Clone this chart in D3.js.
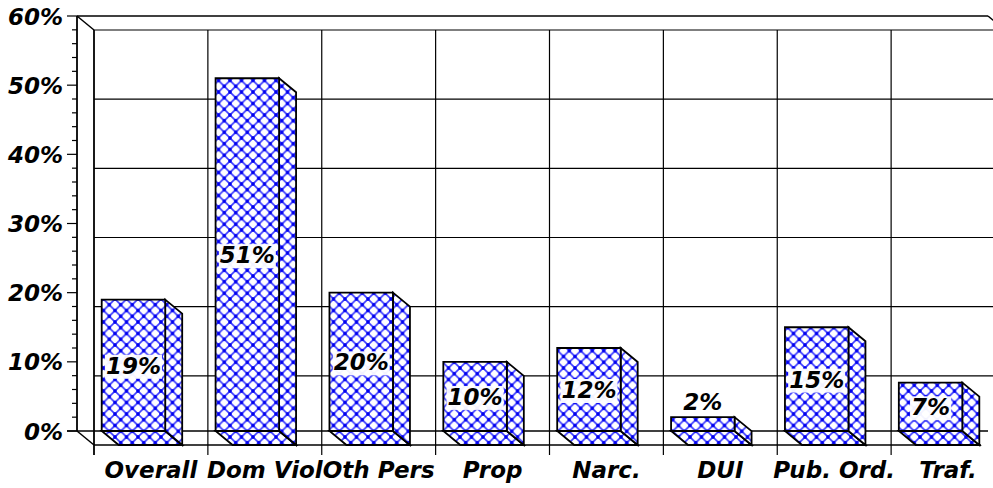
<!DOCTYPE html>
<html>
<head>
<meta charset="utf-8">
<script src="https://cdn.jsdelivr.net/npm/d3@7"></script>
<style>
  html, body { margin: 0; padding: 0; background: #fff; }
  svg { display: block; }
  text { font-family: "DejaVu Sans", "Liberation Sans", sans-serif; font-weight: bold; font-style: oblique; fill: #000; }
</style>
</head>
<body>
<svg id="chart" width="993" height="488"></svg>
<script>
const categories = ["Overall", "Dom Viol", "Oth Pers", "Prop", "Narc.", "DUI", "Pub. Ord.", "Traf."];
const values = [19, 51, 20, 10, 12, 2, 15, 7];
const yTicks = [0, 10, 20, 30, 40, 50, 60];
const yTickLabels = ["0%", "10%", "20%", "30%", "40%", "50%", "60%"];
const minorTicks = d3.range(0, 61, 2);

(function () {
const W = 993, H = 488;
const svg = d3.select("#chart");

const DX = 17, DY = 14;          // depth offset of the back wall
const mLeft = 77, mRight = 988, mTop = 16, mBottom = 431;

const y = d3.scaleLinear().domain([0, 60]).range([mBottom, mTop]);
const x = d3.scaleBand().domain(categories).range([mLeft, mRight]).paddingInner(0).paddingOuter(0);
const barOffset = 24.7, barWidth = 63.5;

// pattern
const defs = svg.append("defs");
const P = 11.5;
const pat = defs.append("pattern").attr("id", "hatch").attr("patternUnits", "userSpaceOnUse")
  .attr("width", P).attr("height", P).attr("x", 0).attr("y", 0);
pat.append("rect").attr("width", P).attr("height", P).attr("fill", "#fff");
pat.append("path").attr("d", `M0,0 L${P},${P} M${P},0 L0,${P} M${-P/2},${P/2} L${P/2},${P*1.5} M${P/2},${-P/2} L${P*1.5},${P/2}`)
  .attr("stroke", "#3535ff").attr("stroke-width", 1.6).attr("fill", "none");
[[0,0],[P,0],[0,P],[P,P],[P/2,P/2]].forEach(([cx,cy]) => {
  pat.append("circle").attr("cx", cx).attr("cy", cy).attr("r", 1.8).attr("fill", "#0000ee");
});

const g = svg.append("g");

// back wall gridlines (horizontal)
g.selectAll("line.hgrid").data(yTicks.filter(d => d > 0)).join("line")
  .attr("x1", mLeft + DX).attr("x2", W + 20)
  .attr("y1", d => y(d) + DY).attr("y2", d => y(d) + DY)
  .attr("stroke", "#000").attr("stroke-width", 1.2);
// back floor line
g.append("line").attr("x1", mLeft + DX).attr("x2", 981)
  .attr("y1", y(0) + DY).attr("y2", y(0) + DY).attr("stroke", "#000").attr("stroke-width", 1.5);

// vertical category gridlines on back wall
const vLines = categories.map(c => x(c) + DX).concat([mRight + DX]);
g.selectAll("line.vgrid").data(vLines).join("line")
  .attr("x1", d => d).attr("x2", d => d)
  .attr("y1", y(60) + DY).attr("y2", y(0) + DY + 10)
  .attr("stroke", "#000").attr("stroke-width", d => d === mLeft + DX ? 1.8 : 1.2);

// front frame
const frame = g.append("g").attr("stroke", "#000").attr("fill", "none");
frame.append("line").attr("x1", mLeft).attr("x2", mLeft).attr("y1", mTop).attr("y2", mBottom).attr("stroke-width", 1.8);
frame.append("line").attr("x1", mLeft).attr("x2", mRight).attr("y1", mTop).attr("y2", mTop).attr("stroke-width", 1.5);
frame.append("line").attr("x1", mRight).attr("x2", mRight + DX).attr("y1", mTop).attr("y2", mTop + DY).attr("stroke-width", 1.5);
frame.append("line").attr("x1", mLeft).attr("x2", mLeft + DX).attr("y1", mTop).attr("y2", mTop + DY).attr("stroke-width", 1.5);
frame.append("line").attr("x1", mLeft).attr("x2", mLeft + DX).attr("y1", mBottom).attr("y2", mBottom + DY).attr("stroke-width", 1.5);
frame.append("line").attr("x1", mLeft - 10).attr("x2", mRight).attr("y1", mBottom).attr("y2", mBottom).attr("stroke-width", 1.5);

// y axis ticks
g.selectAll("line.minor").data(minorTicks).join("line")
  .attr("x1", d => d % 10 === 0 ? mLeft - 10 : mLeft - 5).attr("x2", mLeft)
  .attr("y1", d => y(d)).attr("y2", d => y(d))
  .attr("stroke", "#000").attr("stroke-width", 1.2);

g.selectAll("text.ylab").data(yTicks).join("text")
  .attr("x", 63).attr("y", d => y(d) + 8.5)
  .attr("text-anchor", "end").attr("font-size", 23)
  .text((d, i) => yTickLabels[i]);

// bars
const bars = g.selectAll("g.bar").data(categories).join("g").attr("class", "bar");
bars.each(function(c, i) {
  const v = values[i];
  const x0 = x(c) + barOffset, x1 = x0 + barWidth;
  const yt = y(v), yb = y(0);
  const b = d3.select(this);
  const poly = pts => "M" + pts.map(p => p.join(",")).join("L") + "Z";
  const add = (d) => b.append("path").attr("d", d).attr("fill", "url(#hatch)")
      .attr("stroke", "#000").attr("stroke-width", 1.8).attr("stroke-linejoin", "miter");
  add(poly([[x0, yb], [x1, yb], [x1 + DX, yb + DY], [x0 + DX, yb + DY]]));
  add(poly([[x1, yt], [x1 + DX, yt + DY], [x1 + DX, yb + DY], [x1, yb]]));
  add(poly([[x0, yt], [x1, yt], [x1, yb], [x0, yb]]));
});

// value labels
categories.forEach((c, i) => {
  const v = values[i];
  const cx = x(c) + barOffset + barWidth / 2;
  const inside = v >= 5;
  const cy = inside ? (y(v) + y(0)) / 2 : y(v) - 16;
  const lg = g.append("g");
  const t = lg.append("text").attr("x", cx).attr("y", cy + 8.5).attr("text-anchor", "middle")
    .attr("font-size", 23).text(v + "%");
  if (inside) {
    const bb = t.node().getBBox();
    lg.insert("rect", "text").attr("x", bb.x - 1).attr("y", bb.y + 2).attr("width", bb.width + 2).attr("height", bb.height - 2)
      .attr("fill", "#fff").attr("opacity", 0.95);
  }
});

// category labels
g.selectAll("text.cat").data(categories).join("text")
  .attr("x", c => x(c) + DX + x.bandwidth() / 2).attr("y", 478)
  .attr("text-anchor", "middle").attr("font-size", 23)
  .text(c => c);
})();
</script>
</body>
</html>
